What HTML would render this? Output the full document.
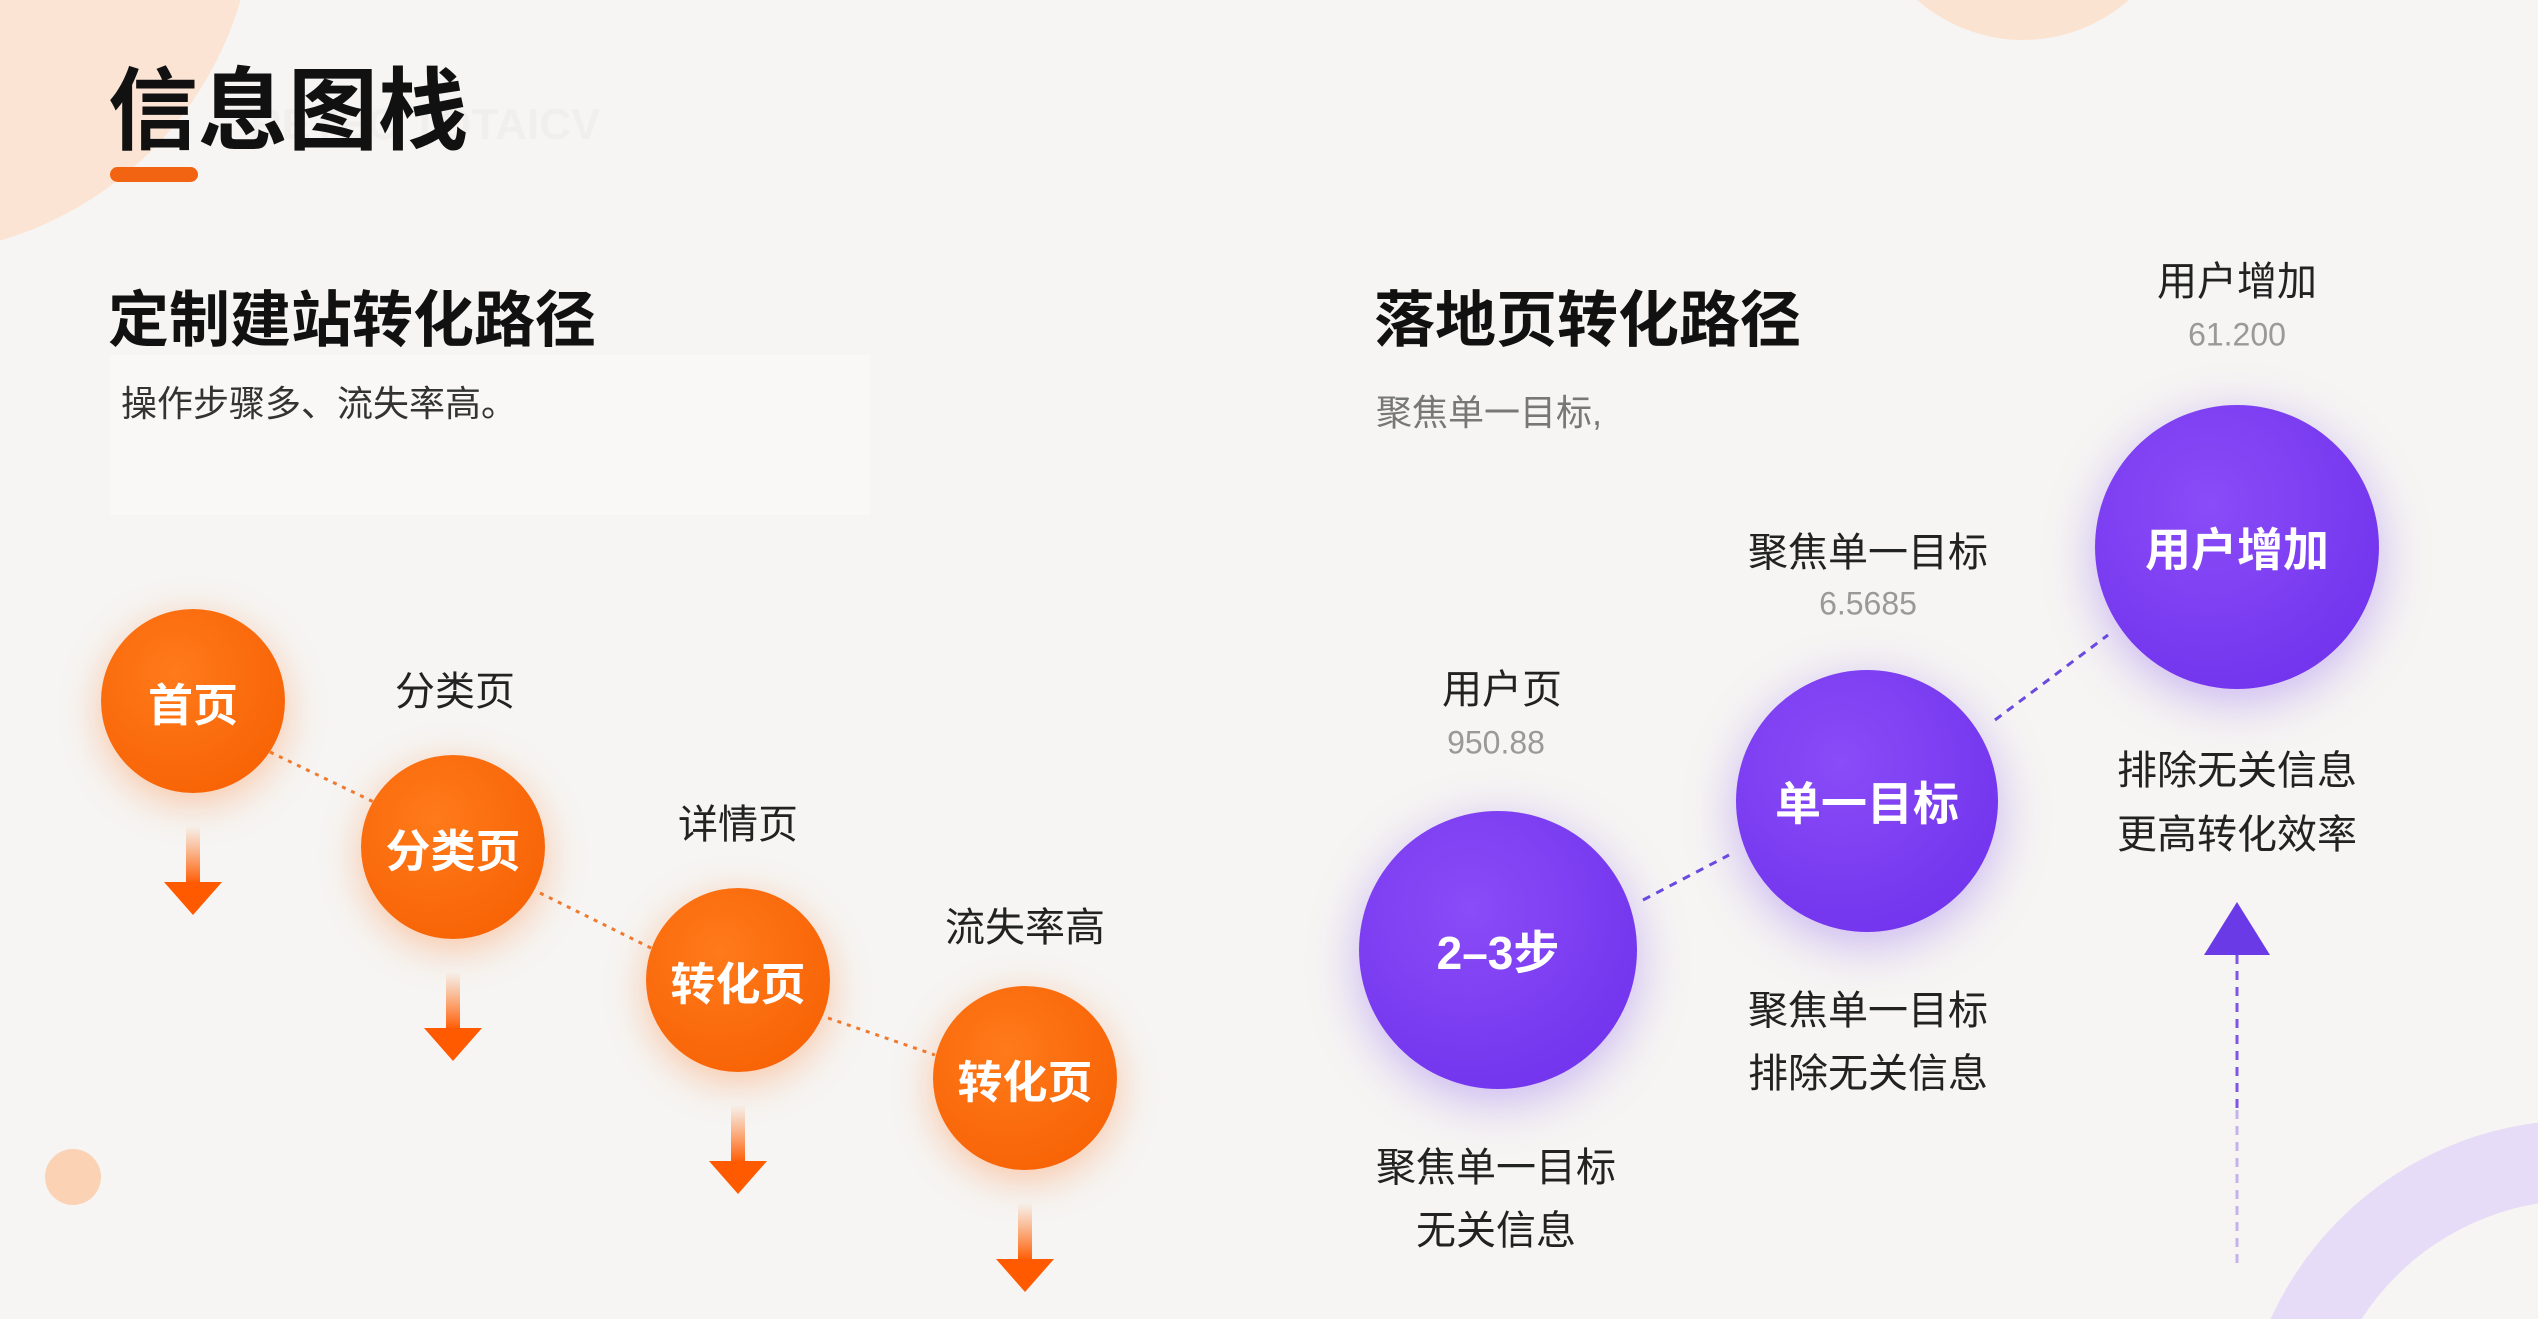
<!DOCTYPE html>
<html style="overflow:hidden;width:2538px;height:1319px"><head><meta charset="utf-8"><style>
*{margin:0;padding:0;box-sizing:border-box}
html,body{width:2538px;height:1319px;overflow:hidden}
body{background:#f6f5f3;font-family:"Liberation Sans","Noto Sans CJK SC",sans-serif;position:relative}
#w{position:absolute;left:0;top:0;width:2538px;height:1319px;overflow:hidden}
.a{position:absolute;white-space:nowrap}
.c{position:absolute;transform:translate(-50%,-50%);white-space:nowrap;text-align:center}
.oc{position:absolute;border-radius:50%;background:radial-gradient(circle at 40% 35%,#ff7a1a,#f55d00);box-shadow:0 10px 40px rgba(255,110,20,.35);color:#fff;font-weight:bold;font-size:45px;display:flex;align-items:center;justify-content:center}
.pc{position:absolute;border-radius:50%;background:radial-gradient(circle at 40% 35%,#8a4cf7,#6c2eea);box-shadow:0 12px 50px rgba(120,60,240,.35);color:#fff;font-weight:bold;font-size:46px;display:flex;align-items:center;justify-content:center}
.lb{font-size:40px;color:#222}
.gr{font-size:32px;color:#999}
</style></head><body><div id="w">
<svg class="a" style="left:0;top:0" width="2538" height="1319">
<path d="M0,0 L240.6,0 A355,355 0 0 1 0,240.6 Z" fill="#fbe4d4"/>
<path d="M1917.2,0 A160,160 0 0 0 2128.8,0 Z" fill="#fbe3d2"/>
<path d="M2270.6,1319 A340,340 0 0 1 2538,1122.6 L2538,1203.4 A260,260 0 0 0 2361.6,1319 Z" fill="#e6dcf7"/>
<circle cx="73" cy="1177" r="28" fill="#fbd2b4"/>
</svg>
<div class="a" style="left:110px;top:355px;width:760px;height:160px;background:rgba(255,255,255,.35)"></div>

<div class="a" style="left:250px;top:100px;font-size:44px;color:#f0efed;font-weight:bold">RETEC TOTAICV</div>
<div class="a" style="left:108px;top:38px;font-size:90px;font-weight:bold;color:#111">信息图栈</div>
<div class="a" style="left:110px;top:167px;width:88px;height:15px;border-radius:8px;background:#f26412"></div>

<div class="a" style="left:108px;top:270px;font-size:61px;font-weight:bold;color:#111">定制建站转化路径</div>
<div class="a" style="left:121px;top:375px;font-size:36px;color:#333">操作步骤多、流失率高。</div>

<div class="a" style="left:1374px;top:270px;font-size:61px;font-weight:bold;color:#111">落地页转化路径</div>
<div class="a" style="left:1376px;top:384px;font-size:36px;color:#777">聚焦单一目标,</div>

<svg class="a" style="left:0;top:0" width="2538" height="1319">
<defs>
<linearGradient id="og" x1="0" y1="0" x2="0" y2="1"><stop offset="0" stop-color="#ff6a10" stop-opacity="0"/><stop offset="1" stop-color="#ff5a00"/></linearGradient>
</defs>
<g stroke="#ef7a30" stroke-width="3" stroke-dasharray="4 6">
<line x1="270" y1="752" x2="380" y2="805"/>
<line x1="540" y1="893" x2="655" y2="950"/>
<line x1="828" y1="1018" x2="935" y2="1055"/>
</g>
<g stroke="#6a4ae0" stroke-width="3" stroke-dasharray="8 7">
<line x1="1643" y1="900" x2="1729" y2="855"/>
<line x1="1995" y1="720" x2="2108" y2="635"/>
</g>
<line x1="2237" y1="955" x2="2237" y2="1110" stroke="#6a3ae0" stroke-width="3" stroke-dasharray="9 7" stroke-opacity="0.85"/>
<line x1="2237" y1="1110" x2="2237" y2="1265" stroke="#6a3ae0" stroke-width="3" stroke-dasharray="9 7" stroke-opacity="0.35"/>
<polygon points="2237,902 2204,955 2270,955" fill="#6a3ae6"/>
<g>
<rect x="186" y="826" width="14" height="58" fill="url(#og)"/><polygon points="164,882 222,882 193,915" fill="#ff5a00"/>
<rect x="446" y="972" width="14" height="58" fill="url(#og)"/><polygon points="424,1028 482,1028 453,1061" fill="#ff5a00"/>
<rect x="731" y="1105" width="14" height="58" fill="url(#og)"/><polygon points="709,1161 767,1161 738,1194" fill="#ff5a00"/>
<rect x="1018" y="1203" width="14" height="58" fill="url(#og)"/><polygon points="996,1259 1054,1259 1025,1292" fill="#ff5a00"/>
</g>
</svg>

<div class="oc" style="left:101px;top:609px;width:184px;height:184px">首页</div>
<div class="oc" style="left:361px;top:755px;width:184px;height:184px">分类页</div>
<div class="oc" style="left:646px;top:888px;width:184px;height:184px">转化页</div>
<div class="oc" style="left:933px;top:986px;width:184px;height:184px">转化页</div>
<div class="c lb" style="left:455px;top:688px">分类页</div>
<div class="c lb" style="left:738px;top:821px">详情页</div>
<div class="c lb" style="left:1025px;top:924px">流失率高</div>

<div class="pc" style="left:1359px;top:811px;width:278px;height:278px">2–3步</div>
<div class="pc" style="left:1736px;top:670px;width:262px;height:262px">单一目标</div>
<div class="pc" style="left:2095px;top:405px;width:284px;height:284px">用户增加</div>

<div class="c lb" style="left:1502px;top:686px">用户页</div>
<div class="c gr" style="left:1496px;top:743px">950.88</div>
<div class="c lb" style="left:1868px;top:549px">聚焦单一目标</div>
<div class="c gr" style="left:1868px;top:604px">6.5685</div>
<div class="c lb" style="left:2237px;top:278px">用户增加</div>
<div class="c gr" style="left:2237px;top:335px">61.200</div>
<div class="c lb" style="left:1496px;top:1164px">聚焦单一目标</div>
<div class="c lb" style="left:1496px;top:1227px">无关信息</div>
<div class="c lb" style="left:1868px;top:1007px">聚焦单一目标</div>
<div class="c lb" style="left:1868px;top:1070px">排除无关信息</div>
<div class="c lb" style="left:2237px;top:767px">排除无关信息</div>
<div class="c lb" style="left:2237px;top:831px">更高转化效率</div>
</div></body></html>
